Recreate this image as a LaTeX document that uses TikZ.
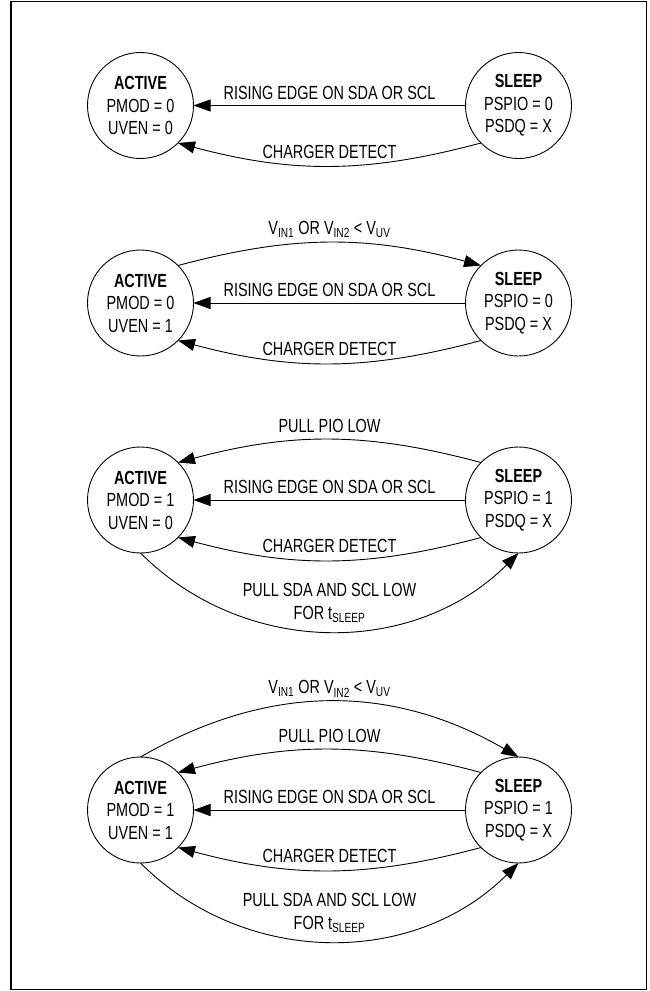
\documentclass[tikz,border=0pt]{standalone}
\usepackage{fontspec}
\setmainfont{Liberation Sans}[FakeStretch=0.76]
\usetikzlibrary{positioning,arrows.meta}

\begin{document}
\begin{tikzpicture}[x=1pt, y=1pt, node distance=272pt, outer sep=0pt,
    every node/.style={font=\fontsize{19}{22.5}\selectfont},
    state/.style={circle, draw, line width=0.9pt, minimum size=106pt, inner sep=0pt, align=center},
    lbl/.style={inner sep=0pt, text depth=0pt, align=center},
    edge/.style={line width=0.9pt, -{Triangle[length=17pt,width=12pt]}}]
    \useasboundingbox (0,0) rectangle (649,-991);
    \draw[line width=1.5pt] (11,-1.5) rectangle (646.5,-989.5);

    % PMOD = 0, UVEN = 0
    \node[state] (act1) at (140.5,-105.5) {\textbf{ACTIVE}\\PMOD = 0\\UVEN = 0};
    \node[state, right=of act1] (slp1) {\textbf{SLEEP}\\PSPIO = 0\\PSDQ = X};
    \draw[edge] (slp1) -- node[lbl, above=6.5pt] {RISING EDGE ON SDA OR SCL} (act1);
    \draw[edge] (slp1.-135) to[bend left=15] node[lbl, above=7.5pt] {CHARGER DETECT} (act1.-45);

    % PMOD = 0, UVEN = 1
    \node[state] (act2) at (140.5,-303) {\textbf{ACTIVE}\\PMOD = 0\\UVEN = 1};
    \node[state, right=of act2] (slp2) {\textbf{SLEEP}\\PSPIO = 0\\PSDQ = X};
    \draw[edge] (act2.45) to[bend left=15] node[lbl, above=8pt] {V\textsubscript{IN1} OR V\textsubscript{IN2} < V\textsubscript{UV}} (slp2.135);
    \draw[edge] (slp2) -- node[lbl, above=6.5pt] {RISING EDGE ON SDA OR SCL} (act2);
    \draw[edge] (slp2.-135) to[bend left=15] node[lbl, above=7.5pt] {CHARGER DETECT} (act2.-45);

    % PMOD = 1, UVEN = 0
    \node[state] (act3) at (140.5,-500) {\textbf{ACTIVE}\\PMOD = 1\\UVEN = 0};
    \node[state, right=of act3] (slp3) {\textbf{SLEEP}\\PSPIO = 1\\PSDQ = X};
    \draw[edge] (slp3.135) to[bend right=15] node[lbl, above=7.5pt] {PULL PIO LOW} (act3.45);
    \draw[edge] (slp3) -- node[lbl, above=6.5pt] {RISING EDGE ON SDA OR SCL} (act3);
    \draw[edge] (slp3.-135) to[bend left=15] node[lbl, above=7.5pt] {CHARGER DETECT} (act3.-45);
    \draw[edge] (act3.south) to[bend right=45] node[lbl, above=12pt] {PULL SDA AND SCL LOW\\FOR t\textsubscript{SLEEP}} (slp3.south);

    % PMOD = 1, UVEN = 1
    \node[state] (act4) at (140.5,-810) {\textbf{ACTIVE}\\PMOD = 1\\UVEN = 1};
    \node[state, right=of act4] (slp4) {\textbf{SLEEP}\\PSPIO = 1\\PSDQ = X};
    \draw[edge] (act4.north) to[bend left=30] node[lbl, above=8pt] {V\textsubscript{IN1} OR V\textsubscript{IN2} < V\textsubscript{UV}} (slp4.north);
    \draw[edge] (slp4.135) to[bend right=15] node[lbl, above=7.5pt] {PULL PIO LOW} (act4.45);
    \draw[edge] (slp4) -- node[lbl, above=6.5pt] {RISING EDGE ON SDA OR SCL} (act4);
    \draw[edge] (slp4.-135) to[bend left=15] node[lbl, above=7.5pt] {CHARGER DETECT} (act4.-45);
    \draw[edge] (act4.south) to[bend right=45] node[lbl, above=12pt] {PULL SDA AND SCL LOW\\FOR t\textsubscript{SLEEP}} (slp4.south);
\end{tikzpicture}
\end{document}
